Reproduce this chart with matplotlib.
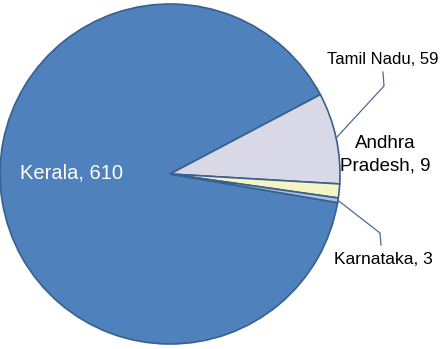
import numpy as np
import matplotlib.pyplot as plt

plt.rcParams['font.family'] = ['Liberation Sans', 'DejaVu Sans']

states = ['Kerala', 'Tamil Nadu', 'Andhra Pradesh', 'Karnataka']
counts = [610, 59, 9, 3]
colors = ['#4f81bd', '#d8d8e6', '#f6f3c4', '#a9bfdc']


def px(x, y):
    # pixel position of the reference -> data units (pie radius = 1)
    return (x - 170) / 170.0, (174 - y) / 170.0


fig = plt.figure(figsize=(4.44, 3.49), dpi=100)
ax = fig.add_axes([0, 5 / 349, 340 / 444, 340 / 349])

wedges, _ = ax.pie(counts, colors=colors, startangle=-9.7, counterclock=False,
                   radius=1, wedgeprops=dict(edgecolor='#37608f', linewidth=1.2))
ax.set_xlim(-1, 1)
ax.set_ylim(-1, 1)


def edge_point(w):
    a = np.deg2rad((w.theta1 + w.theta2) / 2)
    return np.cos(a), np.sin(a)


line_kw = dict(color='#4a6a9a', lw=0.9, clip_on=False)

# Kerala
x, y = px(20, 173)
ax.text(x, y, f'{states[0]}, {counts[0]}', color='white', fontsize=14.5,
        ha='left', va='center')

# Tamil Nadu
ex, ey = edge_point(wedges[1])
bx, by = px(384, 86)
tx, ty = px(383, 72)
ax.plot([ex, bx, tx], [ey, by, ty], **line_kw)
x, y = px(383, 60)
ax.text(x, y, f'{states[1]}, {counts[1]}', fontsize=12, ha='center', va='center',
        clip_on=False)

# Andhra Pradesh
x, y = px(385, 155)
ax.text(x, y, 'Andhra\nPradesh, ' + str(counts[2]), fontsize=13.5, ha='center',
        va='center', linespacing=1.4, clip_on=False)

# Karnataka
ex, ey = edge_point(wedges[3])
bx, by = px(380, 233)
tx, ty = px(381, 245)
ax.plot([ex, bx, tx], [ey, by, ty], **line_kw)
x, y = px(383, 259)
ax.text(x, y, f'{states[3]}, {counts[3]}', fontsize=12.5, ha='center', va='center',
        clip_on=False)

fig.savefig('out.png', dpi=100)
